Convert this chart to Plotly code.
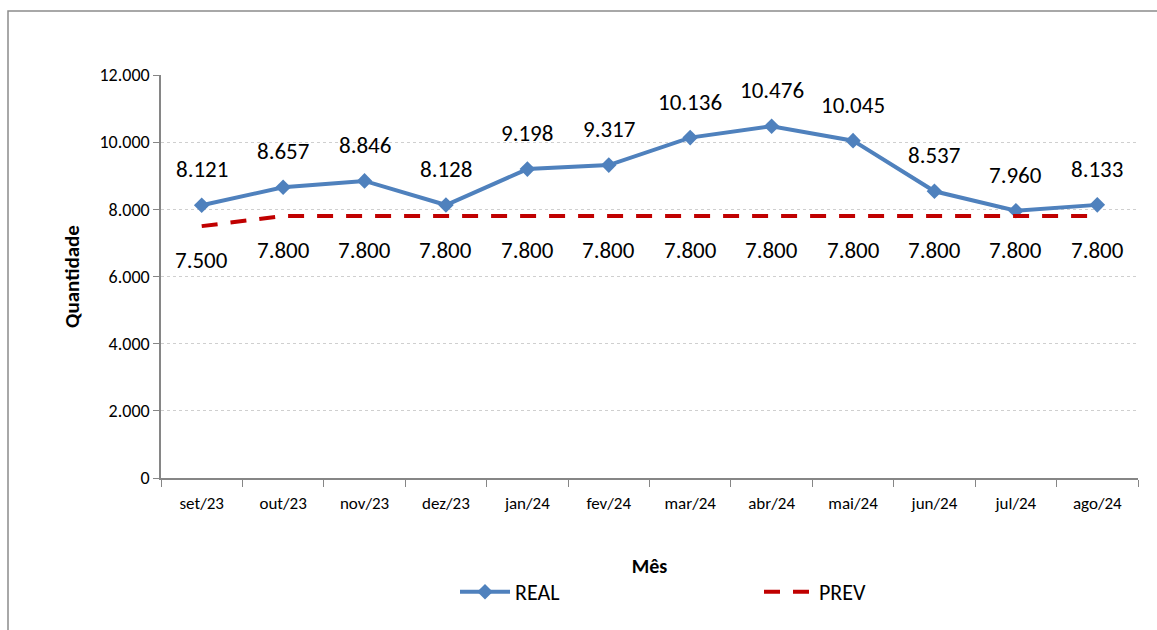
import plotly.graph_objects as go

months = ["set/23", "out/23", "nov/23", "dez/23", "jan/24", "fev/24",
          "mar/24", "abr/24", "mai/24", "jun/24", "jul/24", "ago/24"]
real = [8121, 8657, 8846, 8128, 9198, 9317, 10136, 10476, 10045, 8537, 7960, 8133]
prev = [7500, 7800, 7800, 7800, 7800, 7800, 7800, 7800, 7800, 7800, 7800, 7800]
y_ticks = [0, 2000, 4000, 6000, 8000, 10000, 12000]

FONT = "Carlito, Lato, 'Open Sans', sans-serif"
L, R, T, B = 161, 19, 75, 152
W, H = 1157, 630
PW, PH = W - L - R, H - T - B

def px(x):
    return (x - L) / PW

def py(y):
    return (H - B - y) / PH

fig = go.Figure()
fig.add_trace(go.Scatter(
    x=months, y=real, name="REAL", mode="lines+markers",
    line=dict(color="#4F81BD", width=4),
    marker=dict(symbol="diamond", size=12, color="#4F81BD"),
))
fig.add_trace(go.Scatter(
    x=months, y=prev, name="PREV", mode="lines",
    line=dict(color="#C00000", width=4, dash="16px,13px"),
))

ann = []
def fmt(v):
    return f"{v:,}".replace(",", ".")
for m, v in zip(months, real):
    ann.append(dict(x=m, y=v, text=fmt(v), showarrow=False, yshift=36,
                    font=dict(family=FONT, size=23, color="#000")))
for m, v in zip(months, prev):
    ann.append(dict(x=m, y=v, text=fmt(v), showarrow=False, yshift=-34,
                    font=dict(family=FONT, size=23, color="#000")))

fig.update_layout(
    width=W, height=H,
    margin=dict(l=L, r=R, t=T, b=B, autoexpand=False),
    paper_bgcolor="white", plot_bgcolor="white",
    separators=",.",
    font=dict(family=FONT, color="#000"),
    annotations=ann,
    showlegend=True,
    legend=dict(orientation="h", x=px(455), xanchor="left", y=py(592), yanchor="middle",
                entrywidth=239, entrywidthmode="pixels",
                font=dict(family=FONT, size=22, color="#000"), itemwidth=50),
    xaxis=dict(
        type="category", range=[-0.5, 11.5],
        showline=True, linecolor="#868686", linewidth=1.5,
        ticks="outside", ticklen=7, tickcolor="#868686", tickson="boundaries",
        tickfont=dict(family=FONT, size=17, color="#000"), ticklabelstandoff=9,
        showgrid=False,
        title=dict(text="<b>Mês</b>", font=dict(family=FONT, size=20, color="#000"), standoff=46),
    ),
    yaxis=dict(
        range=[0, 12000], tickvals=y_ticks, tickformat=",d",
        showline=True, linecolor="#868686", linewidth=1.5,
        ticks="outside", ticklen=6, tickcolor="#868686",
        tickfont=dict(family=FONT, size=18, color="#000"),
        showgrid=True, gridcolor="#cfcfcf", griddash="dot", gridwidth=1,
        zeroline=False,
        title=dict(text="<b>Quantidade</b>", font=dict(family=FONT, size=21, color="#000"), standoff=14),
    ),
    shapes=[dict(type="rect", xref="paper", yref="paper",
                 x0=px(8), x1=px(1170), y0=py(645), y1=py(11),
                 line=dict(color="#8c8c8c", width=1.5), fillcolor="rgba(0,0,0,0)", layer="below")],
)

fig.write_html("out.html", config={"displayModeBar": False},
               post_script="document.body.style.margin='0';")
